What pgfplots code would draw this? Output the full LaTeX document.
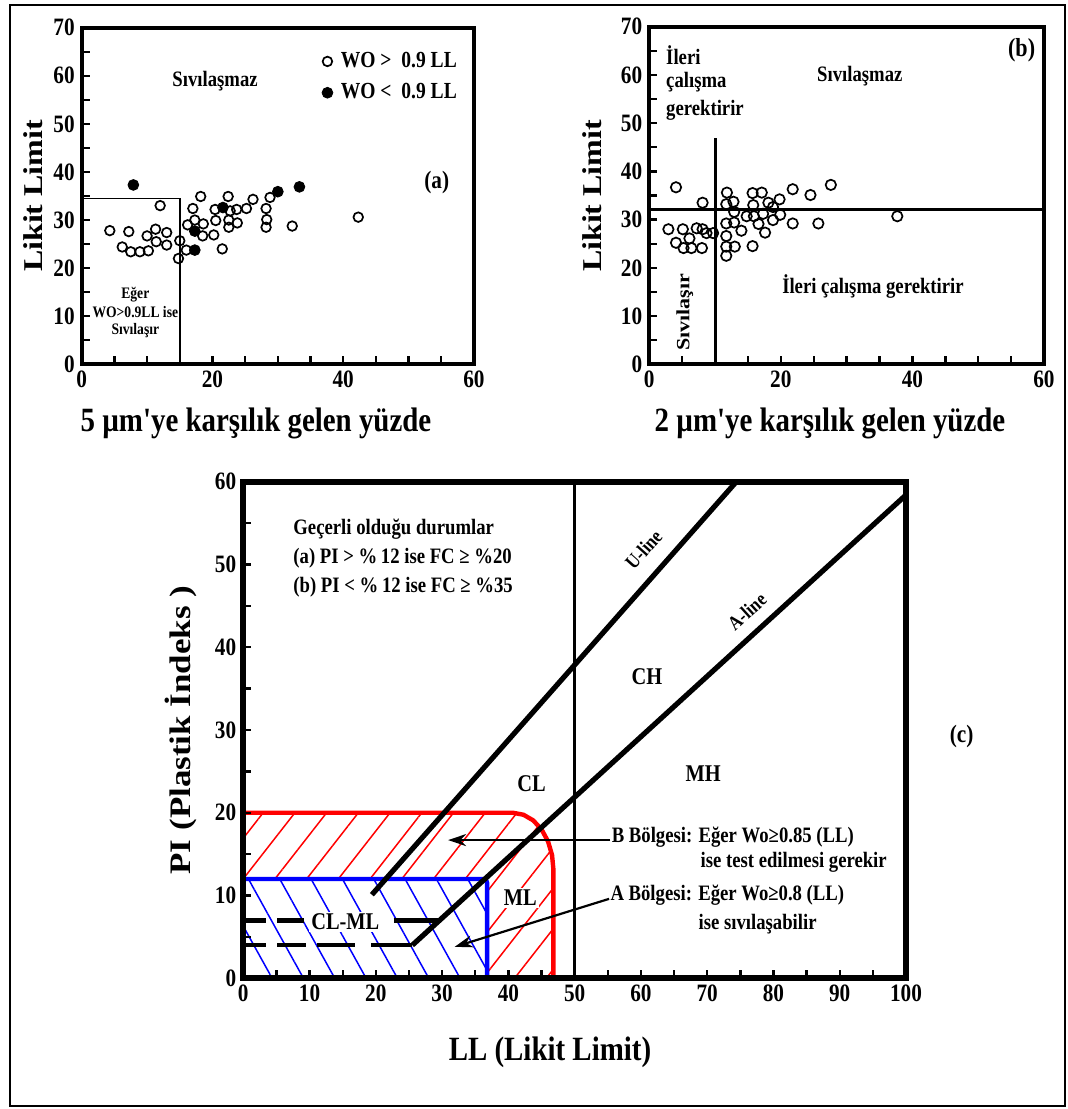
\documentclass[border=0pt]{standalone}
\usepackage{pgfplots}
\pgfplotsset{compat=1.18}
\usepackage{graphicx}
\usepackage{fontspec}
\setmainfont{Liberation Serif}[FakeStretch=0.85, Ligatures=TeXOff]
\newfontfamily\rotfont{Liberation Serif}
\usetikzlibrary{patterns.meta,arrows.meta}
\newcommand{\fs}[1]{\fontsize{#1}{#1}\selectfont}

\pgfplotsset{myax/.style={scale only axis, anchor=south west,
  tick pos=left, tick align=inside,
  major tick length=4pt, minor tick length=4pt,
  tick style={black, line width=1.2pt},
  /pgf/number format/assume math mode=true,
  ticklabel style={font=\bfseries\fs{12.5}},
  clip=false, axis on top},
  dotleg/.style={legend image code/.code={\draw[##1] plot coordinates {(0pt,0pt)};}}}

\begin{document}
\begin{tikzpicture}[x=1pt,y=1pt]
\useasboundingbox (0,0) rectangle (534,554.5);
\draw[line width=1.3pt] (5,1.5) rectangle (532.5,552);

% ---------------- panel (a)
\begin{axis}[myax, at={(40.85pt,372.35pt)}, width=196.15pt, height=168.3pt,
  xmin=0, xmax=60, ymin=0, ymax=70,
  xtick={0,20,40,60}, minor xtick={5,10,15,25,30,35,45,50,55},
  ytick={0,10,...,70}, minor ytick={5,15,...,65},
  axis line style={line width=2pt},
  legend style={draw=none, fill=none, at={(axis cs:36.7,65.8)}, anchor=north west,
    font=\bfseries\fs{11.5}, row sep=2.5pt, inner sep=0pt,
    /tikz/every odd column/.append style={column sep=2pt}},
  legend cell align=left]
\addplot[only marks, mark=o, mark size=2.4pt, mark options={line width=0.85pt}, dotleg] coordinates {
(4.3,27.8) (6.2,24.4) (7.2,27.6) (7.5,23.4) (8.9,23.4) (10.2,23.6) (10.0,26.7)
(11.3,28.1) (11.4,25.5) (12.0,33.0) (13.0,27.4) (13.0,24.8) (14.8,22.0) (15.0,25.7)
(16.0,23.75) (16.2,29.0) (17.0,32.4) (17.3,30.0) (18.2,34.9) (18.6,29.2) (18.5,26.7)
(20.4,32.2) (20.5,29.9) (20.2,26.9) (21.5,24.0) (22.4,34.9) (22.5,30.0) (22.7,31.9)
(22.5,28.5) (23.7,32.2) (23.8,29.4) (25.2,32.4) (26.2,34.3) (28.2,32.4) (28.3,30.1)
(28.2,28.5) (28.8,34.7) (32.2,28.75) (42.3,30.6)};
\addlegendentry{WO >\ \ 0.9 LL}
\addplot[only marks, mark=*, mark size=2.7pt, mark options={fill=black}, dotleg] coordinates {
(7.9,37.3) (21.6,32.6) (17.3,27.7) (17.3,23.75) (30.0,35.9) (33.3,36.9)};
\addlegendentry{WO <\ \ 0.9 LL}
\addplot[line width=0.8pt] coordinates {(0,34.5) (15,34.5) (15,0)};
\node[font=\bfseries\fs{11}] at (axis cs:20.4,58.8) {Sıvılaşmaz};
\node[font=\bfseries\fs{12.5}] at (axis cs:54.3,37.8) {(a)};
\node[font=\bfseries\fs{8}] at (axis cs:8.2,14.4) {Eğer};
\node[font=\bfseries\fs{8}] at (axis cs:8.2,10.9) {WO>0.9LL ise};
\node[font=\bfseries\fs{8}] at (axis cs:8.2,7.1) {Sıvılaşır};
\end{axis}

% ---------------- panel (b)
\begin{axis}[myax, at={(324.65pt,372.35pt)}, width=197.35pt, height=168.8pt,
  xmin=0, xmax=60, ymin=0, ymax=70,
  xtick={0,20,40,60}, minor xtick={5,10,15,25,30,35,45,50,55},
  ytick={0,10,...,70}, minor ytick={5,15,...,65},
  axis line style={line width=2pt}]
\addplot[only marks, mark=o, mark size=2.6pt, mark options={line width=0.85pt}] coordinates {
(4.06,36.7) (2.9,28.0) (4.06,25.2) (5.1,28.0) (5.2,24.1) (6.1,26.1) (6.4,24.1)
(7.2,28.2) (8.0,24.1) (8.1,33.5) (8.1,28.0) (8.7,27.2) (9.7,27.2) (11.8,35.6)
(11.7,33.2) (11.7,29.2) (11.7,26.6) (11.7,24.4) (11.7,22.5) (12.8,33.7) (12.9,31.6)
(12.9,29.4) (13.0,24.4) (14.0,27.7) (14.8,30.7) (15.7,35.5) (15.8,33.0) (15.9,30.7)
(15.7,24.5) (16.6,29.1) (17.1,35.6) (17.3,31.2) (17.6,27.3) (18.1,33.5) (18.8,29.9)
(18.8,32.6) (19.8,34.2) (19.9,31.0) (21.8,36.3) (21.8,29.2) (24.5,35.1) (25.7,29.2)
(27.6,37.2) (37.7,30.7)};
\addplot[line width=1.5pt] coordinates {(10,0) (10,47)};
\addplot[line width=1.5pt] coordinates {(0,32) (60,32)};
\node[anchor=west, font=\bfseries\fs{11}] at (axis cs:1.5,64.1) {İleri};
\node[anchor=west, font=\bfseries\fs{11}] at (axis cs:1.5,58.6) {çalışma};
\node[anchor=west, font=\bfseries\fs{11}] at (axis cs:1.5,52.7) {gerektirir};
\node[font=\bfseries\fs{11}] at (axis cs:32.0,59.8) {Sıvılaşmaz};
\node[font=\bfseries\fs{13}] at (axis cs:56.6,65.2) {(b)};
\node[font=\bfseries\fs{11}] at (axis cs:34.0,16.2) {İleri çalışma gerektirir};
\node[rotate=90] at (axis cs:5.4,10.8) {\rotfont\bfseries\fs{11}\scalebox{1}[0.85]{Sıvılaşır}};
\end{axis}

% ---------------- panel (c)
\begin{axis}[myax, at={(121.65pt,65.35pt)}, width=331.35pt, height=248.3pt,
  xmin=0, xmax=100, ymin=0, ymax=60,
  xtick={0,10,...,100}, minor xtick={5,15,...,95},
  ytick={0,10,...,60}, minor ytick={5,15,...,55},
  axis line style={line width=3pt}]
% B region (red hatch)
\addplot[draw=none, pattern={Lines[angle=52,distance=12.5pt,line width=0.75pt]}, pattern color=red]
 coordinates {(0,0) (0,20) (40.7,20) (42.28,19.76) (43.75,19.08) (45.01,17.98)
 (45.98,16.55) (46.59,14.89) (46.8,13.1) (46.8,0)} \closedcycle;
% A region (blue hatch)
\addplot[draw=none, fill=white] coordinates {(0,0) (0,12) (36.3,12) (36.65,11.85) (36.8,11.5) (36.8,0)} \closedcycle;
\addplot[draw=none, pattern={Lines[angle=-61,distance=13.7pt,line width=0.75pt]}, pattern color=blue]
 coordinates {(0,0) (0,12) (36.3,12) (36.65,11.85) (36.8,11.5) (36.8,0)} \closedcycle;
\addplot[red, line width=2.2pt] coordinates {(0,20) (40.7,20) (42.28,19.76) (43.75,19.08) (45.01,17.98)
 (45.98,16.55) (46.59,14.89) (46.8,13.1) (46.8,0)};
\addplot[blue, line width=2.2pt] coordinates {(0,12) (36.3,12) (36.65,11.85) (36.8,11.5) (36.8,0)};
% lines
\addplot[black, line width=1.4pt] coordinates {(50,0) (50,60)};
\addplot[black, line width=2.6pt] coordinates {(19.4,10.1) (74.4,60)};
\addplot[black, line width=2.6pt] coordinates {(25.5,4) (100,58.4)};
% dashed CL-ML bounds
\addplot[black, line width=2.2pt] coordinates {(0,7) (3.4,7)};
\addplot[black, line width=2.2pt] coordinates {(5.1,7) (9.1,7)};
\addplot[black, line width=2.2pt] coordinates {(22.7,7) (29.6,7)};
\addplot[black, line width=2.2pt] coordinates {(0,4) (3.4,4)};
\addplot[black, line width=2.2pt] coordinates {(5.1,4) (9.4,4)};
\addplot[black, line width=2.2pt] coordinates {(11.1,4) (16.9,4)};
\addplot[black, line width=2.2pt] coordinates {(19.3,4) (25.5,4)};
% arrows
\draw[line width=1.1pt, -{Stealth[length=9pt,width=6pt]}] (axis cs:55.4,16.7) -- (axis cs:30.9,16.7);
\draw[line width=1.1pt, -{Stealth[length=9pt,width=6pt]}] (axis cs:55.2,9.6) -- (axis cs:31.9,3.8);
% texts
\node[anchor=west, font=\bfseries\fs{11}] at (axis cs:6.5,54.3) {Geçerli olduğu durumlar};
\node[anchor=west, font=\bfseries\fs{11}] at (axis cs:6.5,50.7) {(a) PI > \%\,12 ise FC ≥ \%20};
\node[anchor=west, font=\bfseries\fs{11}] at (axis cs:6.5,47.3) {(b) PI < \%\,12 ise FC ≥ \%35};
\node[rotate=48, font=\bfseries\fs{10}] at (axis cs:60.4,51.8) {U-line};
\node[rotate=42, font=\bfseries\fs{10}] at (axis cs:76.0,44.3) {A-line};
\node[font=\bfseries\fs{12}] at (axis cs:60.9,36.5) {CH};
\node[font=\bfseries\fs{12}] at (axis cs:69.4,24.7) {MH};
\node[font=\bfseries\fs{12}] at (axis cs:43.5,23.5) {CL};
\node[font=\bfseries\fs{12}, fill=white, inner sep=1pt] at (axis cs:41.8,9.7) {ML};
\node[font=\bfseries\fs{12}, fill=white, inner sep=1pt] at (axis cs:15.4,6.8) {CL-ML};
\node[anchor=west, font=\bfseries\fs{11}, inner sep=0.5pt] at (axis cs:55.4,17.0) {B Bölgesi: Eğer Wo≥0.85 (LL)};
\node[anchor=west, font=\bfseries\fs{11}, inner sep=0.5pt] at (axis cs:68.8,14.0) {ise test edilmesi gerekir};
\node[anchor=west, font=\bfseries\fs{11}, inner sep=0.5pt] at (axis cs:55.2,10.0) {A Bölgesi: Eğer Wo≥0.8 (LL)};
\node[anchor=west, font=\bfseries\fs{11}, inner sep=0.5pt] at (axis cs:68.5,6.5) {ise sıvılaşabilir};
\node[font=\bfseries\fs{12.5}] at (axis cs:108.4,29.2) {(c)};
\end{axis}

% axis titles
\node[font=\bfseries\fs{17}] at (128,343) {5 µm'ye karşılık gelen yüzde};
\node[font=\bfseries\fs{17}] at (415,343) {2 µm'ye karşılık gelen yüzde};
\node[font=\bfseries\fs{17}] at (275,28.5) {LL (Likit Limit)};
\node[rotate=90] at (16.5,456.5) {\rotfont\bfseries\fs{16}\scalebox{1}[0.85]{Likit Limit}};
\node[rotate=90] at (296.25,456.5) {\rotfont\bfseries\fs{16}\scalebox{1}[0.85]{Likit Limit}};
\node[rotate=90] at (90.5,189.5) {\rotfont\bfseries\fs{17.5}\scalebox{1}[0.85]{PI (Plastik İndeks )}};
\end{tikzpicture}
\end{document}
